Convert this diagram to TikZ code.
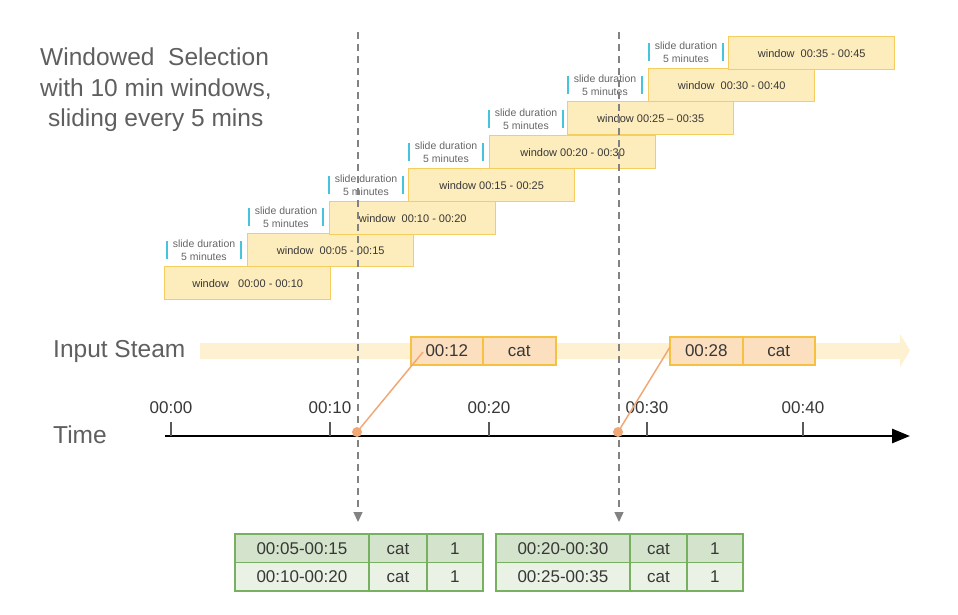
\documentclass[tikz,border=0pt]{standalone}
\usepackage{fontspec}
\setmainfont{Liberation Sans}
\usetikzlibrary{arrows.meta,calc}
\definecolor{winfill}{RGB}{253,236,188}
\definecolor{windraw}{RGB}{246,206,96}
\definecolor{evfill}{RGB}{252,223,190}
\definecolor{evdraw}{RGB}{246,192,64}
\definecolor{bandc}{RGB}{253,241,210}
\definecolor{cyanbar}{RGB}{70,196,222}
\definecolor{dotc}{RGB}{240,168,118}
\definecolor{hdr}{RGB}{212,228,204}
\definecolor{rowc}{RGB}{234,242,230}
\definecolor{grn}{RGB}{118,176,96}
\definecolor{txt}{RGB}{55,55,55}
\definecolor{ttl}{RGB}{95,95,95}
\definecolor{dashc}{RGB}{130,130,130}
\begin{document}
\begin{tikzpicture}[x=1pt,y=-1pt,
  win/.style={draw=windraw, fill=winfill, line width=1.4pt, minimum width=166pt, minimum height=33pt, inner sep=0pt, anchor=north west, font=\fontsize{11}{13}\selectfont, text=txt, text height=8pt, text depth=0pt},
  slidelab/.style={align=center, font=\fontsize{10.5}{12.5}\selectfont, text=black!60, inner sep=0pt},
  cyanline/.style={draw=cyanbar, line width=1.2pt},
  evbox/.style={draw=evdraw, fill=evfill, line width=1.6pt, minimum height=28pt, inner sep=0pt, anchor=north west, font=\fontsize{17}{20}\selectfont, text=txt, text height=12.2pt, text depth=0pt},
  cellbox/.style={draw=grn, line width=1.8pt, minimum height=28.5pt, inner sep=0pt, anchor=north west, font=\fontsize{17}{20}\selectfont, text=txt, text height=12.2pt, text depth=0pt},
  ticklab/.style={font=\fontsize{17}{20}\selectfont, text=txt, anchor=base, inner sep=0pt},
  bigtext/.style={font=\fontsize{24.5}{30}\selectfont, text=ttl, anchor=base west, inner sep=0pt},
  dashline/.style={draw=dashc, line width=1.3pt, dash pattern=on 7pt off 5pt, -{Triangle[length=10pt,width=9pt]}},
  tickline/.style={draw=black!65, line width=1.5pt},
  orangeline/.style={draw=dotc, line width=1.5pt},
  dotnode/.style={circle, fill=dotc, minimum size=10pt, inner sep=0pt}
]
\useasboundingbox (0,0) rectangle (958,614);

% title texts
\node[bigtext] (title1) at (40,65) {Windowed\ \ Selection};
\node[bigtext] (title2) at (40,96) {with 10 min windows,};
\node[bigtext] (title3) at (48,126) {sliding every 5 mins};
\node[bigtext] (inlab) at (53,357) {Input Steam};
\node[bigtext] (timelab) at (53,443) {Time};

% windows
\foreach \k/\l/\t/\lab in {
  0/164/266/{window\ \ \ 00:00 - 00:10},
  1/247/233/{window\ \ 00:05 - 00:15},
  2/329/201/{window\ \ 00:10 - 00:20},
  3/408/168/{window 00:15 - 00:25},
  4/489/135/{window 00:20 - 00:30},
  5/567/101/{window 00:25 – 00:35},
  6/648/68/{window\ \ 00:30 - 00:40},
  7/728/36/{window\ \ 00:35 - 00:45}}{
  \node[win] (w\k) at (\l,\t) {\lab};
}

% slide duration labels
\foreach \k/\x/\y in {1/204/250, 2/286/217, 3/366/185, 4/446/152, 5/526/119, 6/605/85, 7/686/52}{
  \node[slidelab] (s\k) at (\x,\y) {slide duration\\5 minutes};
  \draw[cyanline] ($(s\k.center)+(-37,-9)$) -- ($(s\k.center)+(-37,9)$);
  \draw[cyanline] ($(s\k.center)+(37,-9)$) -- ($(s\k.center)+(37,9)$);
}

% input stream band
\fill[bandc] (200,343) -- (900,343) -- (900,334) -- (910,350.5) -- (900,367) -- (900,359) -- (200,359) -- cycle;

% events
\node[evbox, minimum width=72pt] (e1t) at (410,336) {00:12};
\node[evbox, minimum width=73pt] (e1c) at (482,336) {cat};
\node[evbox, minimum width=73pt] (e2t) at (669,336) {00:28};
\node[evbox, minimum width=72pt] (e2c) at (742,336) {cat};

% time axis
\coordinate (a0) at (165,436);
\coordinate (a1) at (910,436);
\draw[line width=2.8pt, -{Triangle[length=18pt,width=14pt]}] (a0) -- (a1);
\foreach \k/\x/\lab in {0/171/00:00, 1/330/00:10, 2/489/00:20, 3/647/00:30, 4/803/00:40}{
  \draw[tickline] (\x,422) -- (\x,436);
  \node[ticklab] (tl\k) at (\x,413) {\lab};
}

% dashed lines
\coordinate (d1top) at (358,32);
\coordinate (d1bot) at (358,522);
\coordinate (d2top) at (619,32);
\coordinate (d2bot) at (619,522);
\draw[dashline] (d1top) -- (d1bot);
\draw[dashline] (d2top) -- (d2bot);

% orange connectors and dots
\coordinate (pc1) at (357,432);
\coordinate (pc2) at (618,432);
\coordinate (c1) at (423,352);
\coordinate (c2) at (670,347);
\draw[orangeline] (c1) -- (pc1);
\draw[orangeline] (c2) -- (pc2);
\node[dotnode] (p1) at (pc1) {};
\node[dotnode] (p2) at (pc2) {};

% tables
\node[cellbox, fill=hdr, minimum width=134pt] (ta1) at (234,533) {00:05-00:15};
\node[cellbox, fill=hdr, minimum width=58pt] (tb1) at (368,533) {cat};
\node[cellbox, fill=hdr, minimum width=56pt] (tc1) at (426,533) {1};
\node[cellbox, fill=rowc, minimum width=134pt] (ta2) at (234,561.5) {00:10-00:20};
\node[cellbox, fill=rowc, minimum width=58pt] (tb2) at (368,561.5) {cat};
\node[cellbox, fill=rowc, minimum width=56pt] (tc2) at (426,561.5) {1};

\node[cellbox, fill=hdr, minimum width=134pt] (ua1) at (495,533) {00:20-00:30};
\node[cellbox, fill=hdr, minimum width=57pt] (ub1) at (629,533) {cat};
\node[cellbox, fill=hdr, minimum width=56pt] (uc1) at (686,533) {1};
\node[cellbox, fill=rowc, minimum width=134pt] (ua2) at (495,561.5) {00:25-00:35};
\node[cellbox, fill=rowc, minimum width=57pt] (ub2) at (629,561.5) {cat};
\node[cellbox, fill=rowc, minimum width=56pt] (uc2) at (686,561.5) {1};
\end{tikzpicture}
\end{document}
